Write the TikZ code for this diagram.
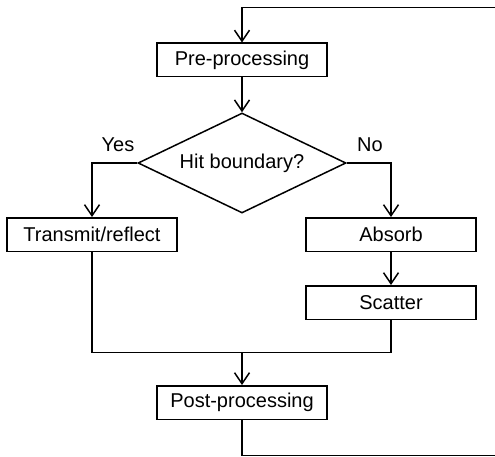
\documentclass[tikz,border=0pt]{standalone}
\usepackage{fontspec}
\setmainfont{Liberation Sans}
\usepackage{tikz}
\usetikzlibrary{shapes.geometric, arrows.meta}

\begin{document}
\begin{tikzpicture}[
    x=1pt, y=-1pt,
    line width=1.5pt,
    every node/.style={font=\fontsize{20}{22}\selectfont},
    procbox/.style={draw, rectangle, inner sep=0pt, minimum width=170pt, minimum height=33.5pt},
    decision/.style={draw, diamond, aspect=2.08, inner sep=0pt, minimum width=208pt, minimum height=100pt},
    >={Straight Barb[length=11pt, width=15pt]}
]
    \useasboundingbox (0,0) rectangle (495,457);

    % Process steps
    \node (pre) at (242,60) [procbox] {Pre-processing};
    \node (hit) at (242,163) [decision] {Hit boundary?};
    \node (trans) at (92,234.5) [procbox] {Transmit/reflect};
    \node (absorb) at (391,234.5) [procbox] {Absorb};
    \node (scatter) at (391,302.5) [procbox] {Scatter};
    \node (post) at (242,402.5) [procbox] {Post-processing};

    % Branch labels
    \node (yes) at (118,145) {Yes};
    \node (no) at (370,145) {No};

    % Helper points
    \coordinate (merge) at (242,352.5);
    \coordinate (loopin) at (495,7.5);
    \coordinate (loopout) at (495,455.5);

    % Connections
    \draw[->] (loopin) -| (pre.north);
    \draw[->] (pre) -- (hit);
    \draw[->] (hit.west) -| (trans.north);
    \draw[->] (hit.east) -| (absorb.north);
    \draw[->] (absorb) -- (scatter);
    \draw (trans.south) |- (merge) -| (scatter.south);
    \draw[->] (merge) -- (post.north);
    \draw (post.south) |- (loopout);
\end{tikzpicture}
\end{document}
